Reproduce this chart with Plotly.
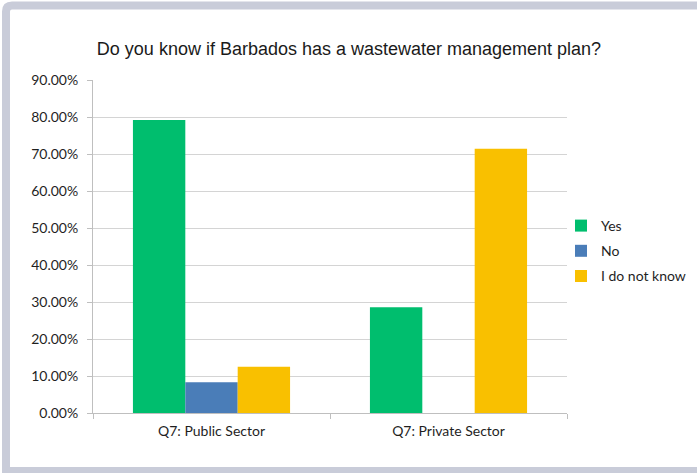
import plotly.graph_objects as go

# Survey responses per sector (share of respondents)
categories = ["Q7: Public Sector", "Q7: Private Sector"]
yes_share = [0.7917, 0.2857]
no_share = [0.0833, 0.0]
unsure_share = [0.125, 0.7143]
y_ticks = [0.0, 0.1, 0.2, 0.3, 0.4, 0.5, 0.6, 0.7, 0.8, 0.9]

W, H = 697, 473
ML, MR, MT, MB = 93, 130, 80, 60
PW, PH = W - ML - MR, H - MT - MB

label_font = dict(family="Lato, Open Sans, sans-serif", size=14, color="#1f1f1f")

fig = go.Figure()
fig.add_trace(go.Bar(name="Yes", x=categories, y=yes_share, legendgroup="yes",
                     marker=dict(color="#00BE6E", line=dict(width=0))))
fig.add_trace(go.Bar(name="No", x=categories, y=no_share, legendgroup="no",
                     marker=dict(color="#4A7DB8", line=dict(width=0))))
fig.add_trace(go.Bar(name="I do not know", x=categories, y=unsure_share, legendgroup="unsure",
                     marker=dict(color="#F9C000", line=dict(width=0))))


def px_to_paper(xp, yp):
    return (xp - ML) / PW, (H - MB - yp) / PH


# light rounded frame around the whole chart
x0, y0 = px_to_paper(6, 5.5)
x1, y1 = px_to_paper(702, 471)
rx, ry = 6 / PW, 6 / PH
frame_path = (
    f"M {x0},{y1} L {x0},{y0 - ry} Q {x0},{y0} {x0 + rx},{y0} "
    f"L {x1},{y0} L {x1},{y1} Z"
)

fig.update_layout(
    width=W, height=H,
    margin=dict(l=ML, r=MR, t=MT, b=MB, pad=0, autoexpand=False),
    paper_bgcolor="white", plot_bgcolor="white",
    barmode="group", bargap=0.337, bargroupgap=0,
    title=dict(text="Do you know if Barbados has a wastewater management plan?",
               x=349 / W, xanchor="center", xref="container",
               y=1 - 49 / H, yanchor="middle", yref="container",
               font=dict(family="Liberation Sans, Arial, sans-serif", size=18, color="#1a1a1a")),
    showlegend=True,
    legend=dict(x=(561 - ML) / PW, xanchor="left", y=(H - MB - 251) / PH, yanchor="middle",
                font=label_font, bgcolor="rgba(0,0,0,0)", traceorder="grouped",
                tracegroupgap=4),
    shapes=[dict(type="path", xref="paper", yref="paper", path=frame_path,
                 line=dict(color="#C9CCD9", width=8), fillcolor="rgba(0,0,0,0)", layer="below")],
)

fig.update_xaxes(
    showline=True, linecolor="#BFBFBF", linewidth=1,
    ticks="outside", tickson="boundaries", ticklen=5, tickcolor="#BFBFBF",
    tickfont=label_font, showgrid=False, ticklabelstandoff=5,
)
fig.update_yaxes(
    range=[0, 0.9], tickvals=y_ticks, tickformat=".2%",
    showline=True, linecolor="#BFBFBF", linewidth=1,
    ticks="outside", ticklen=5, tickcolor="#BFBFBF",
    showgrid=True, gridcolor="#D4D4D4", gridwidth=1,
    tickfont=label_font, zeroline=False, ticklabelstandoff=6,
)

fig.write_html("out.html")
